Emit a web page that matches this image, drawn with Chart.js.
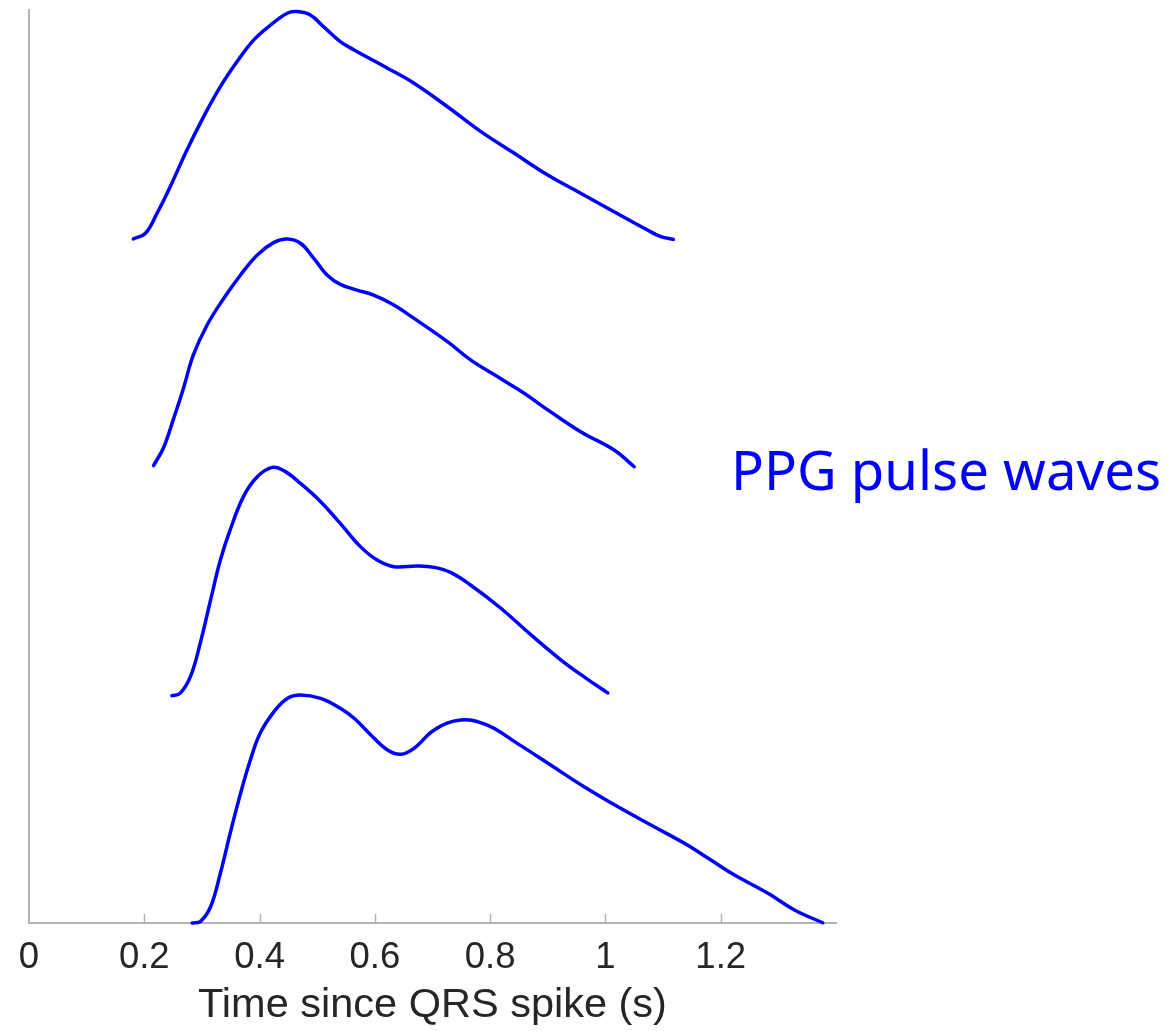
<!DOCTYPE html>
<html>
<head>
<meta charset="utf-8">
<style>
  html, body { margin: 0; padding: 0; background: #ffffff; }
  #wrap { width: 1171px; height: 1031px; position: relative; }
</style>
<script src="https://cdn.jsdelivr.net/npm/chart.js@4.4.1/dist/chart.umd.min.js"></script>
</head>
<body>
<div id="wrap"><canvas id="c" width="1171" height="1031"></canvas></div>
<script>
// ---- data (time in s, stacked normalised amplitude) ----
const xTickValues = [0, 0.2, 0.4, 0.6, 0.8, 1, 1.2];
const xTickLabels = ['0', '0.2', '0.4', '0.6', '0.8', '1', '1.2'];
const axisTitle = 'Time since QRS spike (s)';
const sideLabel = 'PPG pulse waves';

const wave1X = [0.181,0.202,0.222,0.245,0.274,0.303,0.332,0.361,0.390,0.419,0.448,0.465,0.488,0.511,0.540,0.564,0.622,0.668,0.726,0.784,0.842,0.900,0.957,1.015,1.073,1.096,1.118];
const wave1Y = [2.997,3.022,3.109,3.226,3.387,3.533,3.664,3.774,3.869,3.934,3.986,3.993,3.978,3.927,3.861,3.825,3.745,3.679,3.576,3.467,3.372,3.277,3.197,3.116,3.036,3.007,2.995];

const wave2X = [0.216,0.233,0.251,0.268,0.285,0.309,0.338,0.367,0.396,0.425,0.448,0.471,0.494,0.517,0.540,0.569,0.598,0.633,0.668,0.726,0.766,0.813,0.859,0.900,0.957,1.015,1.050];
const wave2Y = [2.004,2.080,2.211,2.343,2.488,2.620,2.737,2.839,2.927,2.982,2.997,2.978,2.912,2.839,2.798,2.773,2.751,2.708,2.649,2.547,2.467,2.393,2.321,2.248,2.152,2.072,1.999];

const wave3X = [0.248,0.262,0.280,0.297,0.315,0.332,0.349,0.372,0.396,0.422,0.442,0.471,0.506,0.540,0.575,0.604,0.633,0.674,0.703,0.732,0.766,0.818,0.871,0.923,0.966,1.004];
const wave3Y = [0.996,1.006,1.079,1.225,1.415,1.590,1.722,1.868,1.955,1.996,1.982,1.926,1.846,1.751,1.649,1.590,1.561,1.564,1.558,1.535,1.481,1.380,1.262,1.152,1.073,1.008];

const wave4X = [0.283,0.297,0.315,0.332,0.349,0.367,0.384,0.401,0.425,0.448,0.471,0.506,0.540,0.564,0.593,0.622,0.645,0.668,0.703,0.749,0.795,0.847,0.905,0.963,1.021,1.079,1.137,1.183,1.224,1.282,1.328,1.377];
const wave4Y = [0.000,0.006,0.071,0.218,0.393,0.568,0.714,0.831,0.926,0.984,0.999,0.984,0.941,0.897,0.824,0.758,0.739,0.765,0.846,0.889,0.867,0.787,0.692,0.597,0.510,0.429,0.349,0.276,0.210,0.130,0.057,0.001];

const waves = [[wave1X, wave1Y], [wave2X, wave2Y], [wave3X, wave3Y], [wave4X, wave4Y]];

const axisGray = '#b3b3b3';
const textDark = '#262626';
const lineBlue = '#0000ff';

const datasets = waves.map(([xs, ys], i) => ({
  label: 'wave ' + (i + 1),
  data: xs.map((x, k) => ({ x: x, y: ys[k] })),
  borderColor: lineBlue,
  borderWidth: 3.5,
  pointRadius: 0,
  fill: false,
  tension: 0.4,
  borderCapStyle: 'round',
  borderJoinStyle: 'round',
  clip: 4
}));

const innerTicks = {
  id: 'innerTicks',
  afterDraw(chart) {
    const xs = chart.scales.x;
    const ctx = chart.ctx;
    const bottom = chart.chartArea.bottom;
    ctx.save();
    ctx.strokeStyle = axisGray;
    ctx.lineWidth = 1.5;
    xTickValues.forEach(v => {
      if (v === 0) return;
      const px = Math.round(xs.getPixelForValue(v)) + 0.5;
      ctx.beginPath();
      ctx.moveTo(px, bottom);
      ctx.lineTo(px, bottom - 9);
      ctx.stroke();
    });
    ctx.restore();
  }
};

const sideText = {
  id: 'sideText',
  afterDraw(chart) {
    const ctx = chart.ctx;
    ctx.save();
    ctx.fillStyle = lineBlue;
    ctx.font = '54.5px "Noto Sans", "Open Sans", sans-serif';
    ctx.textAlign = 'left';
    ctx.textBaseline = 'middle';
    ctx.fillText(sideLabel, 731, 474);
    ctx.restore();
  }
};

new Chart(document.getElementById('c'), {
  type: 'line',
  data: { datasets: datasets },
  options: {
    responsive: false,
    animation: false,
    layout: { padding: { top: 10, right: 335, left: 0, bottom: 0 } },
    plugins: { legend: { display: false }, tooltip: { enabled: false }, title: { display: false } },
    scales: {
      x: {
        type: 'linear',
        min: 0,
        max: 1.4,
        afterBuildTicks(scale) { scale.ticks = xTickValues.map(v => ({ value: v })); },
        afterFit(scale) { scale.height = 108; },
        grid: { display: false, drawTicks: false },
        border: { display: true, color: axisGray, width: 2 },
        ticks: {
          autoSkip: false,
          maxRotation: 0,
          padding: 13,
          color: textDark,
          font: { family: '"Liberation Sans", Arial, sans-serif', size: 36.5 },
          callback(value) {
            const i = xTickValues.indexOf(value);
            return i >= 0 ? xTickLabels[i] : '';
          }
        },
        title: {
          display: true,
          text: axisTitle,
          color: textDark,
          padding: { top: 0, bottom: 1 },
          font: { family: '"Liberation Sans", Arial, sans-serif', size: 41.5 }
        }
      },
      y: {
        type: 'linear',
        min: 0,
        max: 4,
        afterFit(scale) { scale.width = 29; },
        grid: { display: false, drawTicks: false },
        border: { display: true, color: axisGray, width: 2 },
        ticks: { display: false }
      }
    }
  },
  plugins: [innerTicks, sideText]
});
</script>
</body>
</html>
